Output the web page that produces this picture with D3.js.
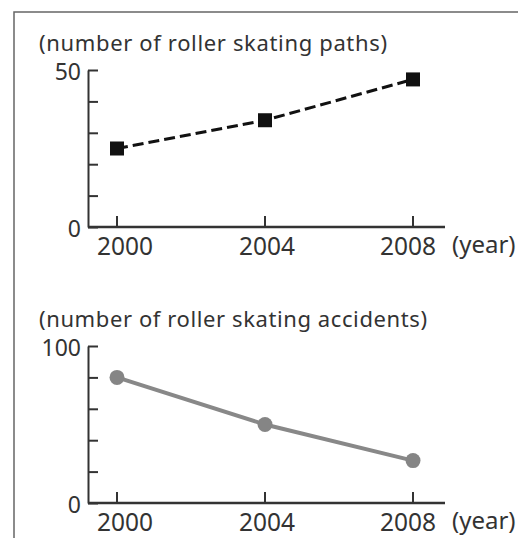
<!DOCTYPE html>
<meta charset="utf-8" />
<style>
  body {
    margin: 0;
    background: #fff;
  }
  text {
    font-family: "Noto Sans", sans-serif;
    fill: #333;
  }
  .axis path,
  .axis line {
    stroke: #333;
    stroke-width: 2;
  }
</style>
<body>
  <div id="chart"></div>
  <script src="https://cdn.jsdelivr.net/npm/d3@7"></script>
  <script>
    const years = [2000, 2004, 2008];
    const paths = [25, 34, 47];
    const accidents = [80, 50, 27];
    const pathTicks = [0, 10, 20, 30, 40, 50];
    const accidentTicks = [0, 20, 40, 60, 80, 100];

    const width = 518;
    const height = 538;

    const svg = d3
      .select("#chart")
      .append("svg")
      .attr("width", width)
      .attr("height", height);

    // frame, runs off the right and bottom edges
    svg
      .append("rect")
      .attr("x", 14)
      .attr("y", 12)
      .attr("width", 600)
      .attr("height", 600)
      .attr("fill", "none")
      .attr("stroke", "#666")
      .attr("stroke-width", 1.5);

    const x = d3.scalePoint().domain(years).range([117, 413]);

    const drawPanel = (opts) => {
      const y = d3.scaleLinear().domain([0, opts.max]).range([opts.bottom, opts.top]);
      const g = svg.append("g");

      // y axis: ticks pointing inward
      const yAxis = d3
        .axisRight(y)
        .tickValues(opts.ticks)
        .tickSize(10)
        .tickSizeOuter(0)
        .tickFormat("");
      g.append("g")
        .attr("class", "axis")
        .attr("transform", "translate(88,0)")
        .call(yAxis);

      // x axis line with upward ticks
      g.append("line")
        .attr("x1", 88)
        .attr("x2", 445)
        .attr("y1", opts.bottom)
        .attr("y2", opts.bottom)
        .attr("stroke", "#333")
        .attr("stroke-width", 2.5);

      g.selectAll(".xtick")
        .data(years)
        .enter()
        .append("line")
        .attr("x1", (d) => x(d))
        .attr("x2", (d) => x(d))
        .attr("y1", opts.bottom)
        .attr("y2", opts.bottom - 11)
        .attr("stroke", "#333")
        .attr("stroke-width", 2);

      g.selectAll(".xlab")
        .data(years)
        .enter()
        .append("text")
        .attr("x", (d, i) => x(d) + [8, 2, -5][i])
        .attr("y", opts.bottom + 28)
        .attr("text-anchor", "middle")
        .attr("font-size", 24.5)
        .text((d) => d);

      g.append("text")
        .attr("x", 452)
        .attr("y", opts.bottom + 26)
        .attr("font-size", 24)
        .text("(year)");

      // end labels on y axis
      g.append("text")
        .attr("x", 81)
        .attr("y", y(opts.max) + 10)
        .attr("text-anchor", "end")
        .attr("font-size", 23)
        .text(opts.max);
      g.append("text")
        .attr("x", 81)
        .attr("y", y(0) + 10)
        .attr("text-anchor", "end")
        .attr("font-size", 23)
        .text(0);

      g.append("text")
        .attr("x", 39)
        .attr("y", opts.top - 19)
        .attr("font-size", 22)
        .attr("textLength", opts.titleWidth)
        .text(opts.title);

      const line = d3
        .line()
        .x((d, i) => x(years[i]))
        .y((d) => y(d));

      g.append("path")
        .datum(opts.values)
        .attr("d", line)
        .attr("fill", "none")
        .attr("stroke", opts.color)
        .attr("stroke-width", opts.dash ? 3 : 4)
        .attr("stroke-dasharray", opts.dash || null);

      return { g, y };
    };

    const upper = drawPanel({
      top: 70,
      bottom: 227,
      max: 50,
      ticks: pathTicks,
      values: paths,
      title: "(number of roller skating paths)",
      titleWidth: 348,
      color: "#111",
      dash: "11,5",
    });

    upper.g
      .selectAll(".sq")
      .data(paths)
      .enter()
      .append("rect")
      .attr("x", (d, i) => x(years[i]) - 7)
      .attr("y", (d) => upper.y(d) - 7)
      .attr("width", 14)
      .attr("height", 14)
      .attr("fill", "#111");

    const lower = drawPanel({
      top: 346,
      bottom: 503,
      max: 100,
      ticks: accidentTicks,
      values: accidents,
      title: "(number of roller skating accidents)",
      titleWidth: 388,
      color: "#888",
    });

    lower.g
      .selectAll(".dot")
      .data(accidents)
      .enter()
      .append("circle")
      .attr("cx", (d, i) => x(years[i]))
      .attr("cy", (d) => lower.y(d))
      .attr("r", 7.5)
      .attr("fill", "#858585");
  </script>
</body>
